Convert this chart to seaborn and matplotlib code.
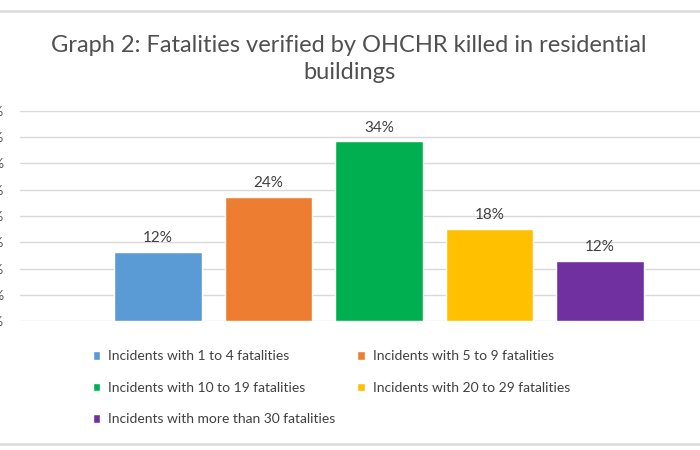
import matplotlib
matplotlib.use("Agg")
import matplotlib.pyplot as plt
import seaborn as sns
import pandas as pd
from matplotlib.lines import Line2D
from matplotlib.ticker import PercentFormatter

categories = [
    "Incidents with 1 to 4 fatalities",
    "Incidents with 5 to 9 fatalities",
    "Incidents with 10 to 19 fatalities",
    "Incidents with 20 to 29 fatalities",
    "Incidents with more than 30 fatalities",
]
values = [13.2, 23.7, 34.2, 17.6, 11.5]
value_labels = ["12%", "24%", "34%", "18%", "12%"]
colors = ["#5B9BD5", "#ED7D31", "#00B050", "#FFC000", "#7030A0"]
y_ticks = [0, 5, 10, 15, 20, 25, 30, 35, 40]
title = "Graph 2: Fatalities verified by OHCHR killed in residential\nbuildings"

sns.set_theme(style="white")
plt.rcParams["font.family"] = ["Lato", "DejaVu Sans"]

df = pd.DataFrame({"category": categories, "value": values})

fig = plt.figure(figsize=(7, 4.5), dpi=100)
ax = fig.add_axes([20 / 700, (450 - 321) / 450, 1 - 20 / 700, (321 - 111) / 450])

sns.barplot(data=df, x="category", y="value", hue="category",
            palette=colors, width=0.79, ax=ax, legend=True,
            saturation=1)

handles, labels = ax.get_legend_handles_labels()
ax.get_legend().remove()

for cont, lab in zip(ax.containers, value_labels):
    ax.bar_label(cont, labels=[lab], padding=5, fontsize=11, color="#404040")

ax.set_ylim(0, 40)
ax.set_xlim(-1.248, 4.904)
ax.set_yticks(y_ticks)
ax.yaxis.set_major_formatter(PercentFormatter(decimals=0))
ax.tick_params(axis="y", length=0, pad=11.5, labelsize=10, labelcolor="#595959")
ax.set_xticks([])
ax.set_xlabel("")
ax.set_ylabel("")
for s in ax.spines.values():
    s.set_visible(False)
ax.grid(axis="y", color="#D9D9D9", linewidth=1)
ax.set_axisbelow(True)

fig.text(0.4986, 1 - 59 / 450, title, ha="center", va="center",
         fontsize=17, color="#505050", linespacing=1.35)

order = [0, 2, 4, 1, 3]
fig.legend([handles[i] for i in order], [labels[i] for i in order],
           ncol=2, loc="upper left", bbox_to_anchor=(80 / 700, 1 - 338 / 450),
           frameon=False, fontsize=10, labelcolor="#404040",
           handlelength=0.55, handleheight=0.55, handletextpad=0.55,
           columnspacing=1.6, labelspacing=1.4, borderpad=0.4)

fig.add_artist(Line2D([0, 1], [1 - 10.5 / 450, 1 - 10.5 / 450], color="#DDDDDD", lw=2))
fig.add_artist(Line2D([0, 1], [1 - 443.5 / 450, 1 - 443.5 / 450], color="#DDDDDD", lw=2))

fig.savefig("out.png", dpi=100)
